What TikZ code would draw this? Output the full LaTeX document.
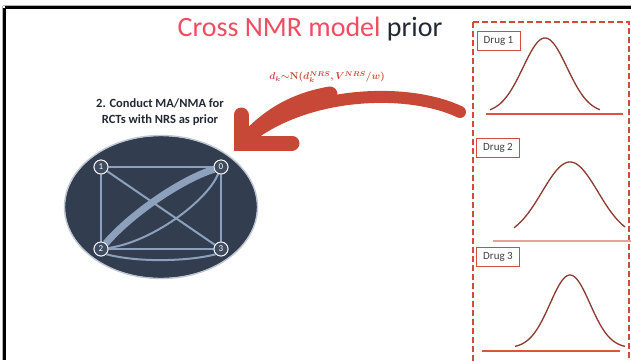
\documentclass[tikz,border=0pt]{standalone}
\usepackage{fontspec}
\setmainfont{Carlito}
\usepackage{amsmath,bm}
\definecolor{titlered}{RGB}{240,78,96}
\definecolor{titledark}{RGB}{34,40,52}
\definecolor{arrowred}{RGB}{200,72,56}
\definecolor{boxred}{RGB}{210,76,60}
\definecolor{curvebrown}{RGB}{140,58,46}
\definecolor{basered}{RGB}{218,84,66}
\definecolor{basepink}{RGB}{232,162,154}
\definecolor{netfill}{RGB}{50,61,79}
\definecolor{netedge}{RGB}{141,160,188}
\definecolor{netring}{RGB}{190,198,210}
\definecolor{labelgray}{RGB}{64,64,64}
\newcommand{\priorformula}{$\bm{d_k{\sim}\mathbf{N}(d_k^{NRS},V^{NRS}/w)}$}
\tikzset{
  netnode/.style={circle, draw=white!90!netedge, line width=0.9pt, fill=netfill!85!netedge,
    minimum size=14pt, inner sep=0pt, text=white, font=\fontsize{9}{9}\selectfont},
  netline/.style={draw=netedge, line width=2pt},
  druglabel/.style={draw=boxred, line width=0.9pt, fill=white, text=labelgray,
    minimum width=43pt, minimum height=19pt, inner sep=1pt, font=\fontsize{11}{11}\selectfont},
  bell/.style={draw=curvebrown, line width=1.3pt, smooth},
  baseline/.style={draw=basered, line width=1.6pt},
}
\begin{document}
\begin{tikzpicture}[x=1pt, y=-1pt]
\useasboundingbox (0,0) rectangle (631,360);
\fill[white] (0,0) rectangle (631,360);

% slide frame
\draw[gray!60, line width=1pt] (2.5,5.5) -- (631,5.5);
\draw[gray!60, line width=1pt] (2.5,5.5) -- (2.5,360);
\draw[black, line width=2.6pt] (4.6,7.6) -- (631,7.6);
\draw[black, line width=2.6pt] (4.6,7.6) -- (4.6,360);

% title
\node (title) at (310,29) {\fontsize{28}{32}\selectfont\textcolor{titlered}{Cross NMR model} \textcolor{titledark}{prior}};

% heading of the network
\node[align=center, text=titledark, font=\bfseries\fontsize{12.5}{16}\selectfont] (step2) at (160,112)
  {2. Conduct MA/NMA for\\RCTs with NRS as prior};

% network ellipse
\fill[netfill] (161,207) ellipse [x radius=96, y radius=71];
\draw[netring, line width=1.4pt] (161,207) ellipse [x radius=96.5, y radius=71.5];

% network nodes
\node[netnode] (n1) at (101,167) {1};
\node[netnode] (n0) at (221,167) {0};
\node[netnode] (n2) at (101,249) {2};
\node[netnode] (n3) at (221,249) {3};

% network edges
\draw[netline, line width=2.8pt] (n1) -- (n0);
\draw[netline, line width=2.4pt] (n1) -- (n2);
\draw[netline] (n1) -- (n3);
\draw[netline, line width=2.4pt] (n0) -- (n3);
\draw[netline] (n2) -- (n3);
\draw[netline] (n2.south east) .. controls (140,263) and (190,261) .. (n3.south west);
\draw[netline, line width=7pt] (n2) .. controls (130,215) and (180,180) .. (n0);
\draw[netline] (n2) .. controls (152,242) and (207,201) .. (n0);
% nodes drawn again above the edges
\node[netnode] at (n1) {1};
\node[netnode] at (n0) {0};
\node[netnode] at (n2) {2};
\node[netnode] at (n3) {3};

% curved arrow: shaft widening towards the head
\coordinate (arrstart) at (460,112);
\coordinate (arrcorner) at (241,143);
\draw[arrowred, line width=12pt, line cap=round] (arrstart) .. controls (410,88) and (310,90) .. (249,137);
\draw[arrowred, line width=15pt, line cap=round] (330,94) .. controls (295,100) and (270,115) .. (249,137);
\draw[arrowred, line width=15pt, line cap=round, line join=miter] (241,115) -- (arrcorner) -- (292,143);

% formula
\node[text=arrowred, inner sep=0pt, font=\fontsize{10}{12}\selectfont] (formula) at (327,77) {\priorformula};

% panel of prior distributions
\draw[boxred, line width=2pt, dash pattern=on 6pt off 3pt] (473,22) -- (629,22) -- (629,365);
\draw[boxred, line width=2pt, dash pattern=on 6pt off 3pt] (473,22) -- (473,365);

\node[druglabel] (drug1) at (498.5,40.5) {Drug 1};
\node[druglabel] (drug2) at (498,148) {Drug 2};
\node[druglabel] (drug3) at (498,257) {Drug 3};

\draw[baseline] (486,114) -- (623,114);
\draw[basepink, line width=2.8pt] (493,241) -- (631,241);
\draw[baseline] (482,351) -- (620,351);

\draw[bell] plot[domain=490:600, samples=90] (\x, {113-75*exp(-((\x-545)^2)/968)});
\draw[bell] plot[domain=514:625, samples=90] (\x, {238-76*exp(-((\x-570)^2)/1568)});
\draw[bell] plot[domain=515:625, samples=90] (\x, {348-73*exp(-((\x-570)^2)/800)});
\end{tikzpicture}
\end{document}
